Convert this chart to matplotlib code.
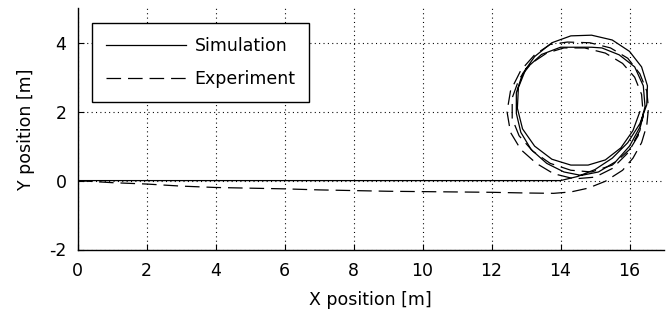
import matplotlib
matplotlib.use("Agg")
import matplotlib.pyplot as plt

plt.rcParams['font.family'] = ['DejaVu Sans']
plt.rcParams['lines.scale_dashes'] = False

# Simulation trajectory
sim_x = [0.0, 14.0, 14.5, 15.0, 15.5, 15.95, 16.3, 16.5, 16.52, 16.35, 16.0, 15.5, 14.9, 14.3,
         13.75, 13.25, 12.9, 12.72, 12.72, 12.85, 13.15, 13.6, 14.1, 14.6, 15.1, 15.6, 16.0,
         16.3, 16.45, 16.4, 16.15, 15.7, 15.2, 14.9, 14.0, 13.45, 13.0, 12.78, 12.75, 12.9,
         13.25, 13.75, 14.3, 14.8, 15.3, 15.75, 16.1, 16.3]
sim_y = [0.0, 0.0, 0.12, 0.32, 0.65, 1.1, 1.65, 2.2, 2.75, 3.3, 3.75, 4.08, 4.22, 4.2,
         4.0, 3.6, 3.1, 2.55, 1.95, 1.4, 0.9, 0.5, 0.25, 0.15, 0.25, 0.55, 1.0,
         1.55, 2.15, 2.75, 3.3, 3.65, 3.85, 3.87, 3.87, 3.66, 3.25, 2.7, 2.1, 1.5,
         1.0, 0.62, 0.45, 0.45, 0.6, 0.95, 1.45, 2.0]

# Experiment trajectory
exp_x = [0.0, 1.0, 2.0, 3.0, 4.0, 5.0, 6.0, 7.0, 8.0, 9.0, 10.0, 11.0, 12.0, 13.0, 13.8,
         14.3, 14.8, 15.3, 15.8, 16.1, 16.35, 16.5, 16.55, 16.5, 16.3, 15.95, 15.45, 14.85,
         14.2, 13.7, 13.25, 12.85, 12.55, 12.45, 12.55, 12.85, 13.3, 13.8, 14.4, 15.0, 15.5,
         15.95, 16.25, 16.4, 16.35, 16.15, 15.8, 15.3, 14.7, 14.1, 13.6, 13.15, 12.8, 12.6,
         12.6, 12.8, 13.2, 13.7, 14.3, 14.9, 15.5, 16.0, 16.3, 16.4]
exp_y = [0.0, -0.06, -0.1, -0.16, -0.2, -0.22, -0.24, -0.27, -0.29, -0.31, -0.32, -0.33,
         -0.34, -0.36, -0.37, -0.33, -0.22, -0.02, 0.3, 0.65, 1.1, 1.6, 2.1, 2.6, 3.1, 3.55,
         3.85, 4.0, 4.02, 3.95, 3.65, 3.2, 2.6, 2.0, 1.4, 0.9, 0.5, 0.2, 0.05, 0.1, 0.35,
         0.8, 1.3, 1.9, 2.5, 3.0, 3.4, 3.7, 3.85, 3.85, 3.7, 3.4, 2.95, 2.4,
         1.8, 1.3, 0.85, 0.5, 0.3, 0.25, 0.45, 0.9, 1.45, 1.9]

x_ticks = [0, 2, 4, 6, 8, 10, 12, 14, 16]
y_ticks = [-2, 0, 2, 4]
labels = ["Simulation", "Experiment"]

fs = 12.5
fig = plt.figure(figsize=(6.72, 3.2), dpi=100)
ax = fig.add_axes([77.5 / 672, 1 - 249.5 / 320, (664 - 77.5) / 672, (249.5 - 8.3) / 320])

ax.plot(sim_x, sim_y, color='black', lw=0.9, ls='-', label=labels[0])
ax.plot(exp_x, exp_y, color='black', lw=0.9, ls=(0, (10.5, 5.0)), label=labels[1])

ax.set_xlim(0, 17)
ax.set_ylim(-2, 5)
ax.set_xticks(x_ticks)
ax.set_yticks(y_ticks)
ax.set_xticklabels([str(v) for v in x_ticks])
ax.set_yticklabels([str(v) for v in y_ticks])

ax.grid(True, color='black', lw=0.8, ls=(0, (0.75, 2.4)))
for s in ['top', 'right']:
    ax.spines[s].set_visible(False)
for s in ['left', 'bottom']:
    ax.spines[s].set_linewidth(1.0)
ax.tick_params(direction='in', length=4, width=0.8, labelsize=fs, colors='black')
ax.tick_params(axis='x', pad=9)
ax.tick_params(axis='y', pad=8)

ax.set_xlabel("X position [m]", fontsize=fs, labelpad=8)
ax.set_ylabel("Y position [m]", fontsize=fs, labelpad=10)

leg = ax.legend(loc='upper left', bbox_to_anchor=(14.5 / 586.5, (249.5 - 23) / 241.2),
                borderaxespad=0, fontsize=fs, frameon=True, fancybox=False,
                handlelength=4.6, handletextpad=0.5, borderpad=0.8, labelspacing=0.85)
leg.get_frame().set_edgecolor('black')
leg.get_frame().set_linewidth(1.0)
leg.get_frame().set_alpha(1)

fig.savefig("out.png", dpi=100)
